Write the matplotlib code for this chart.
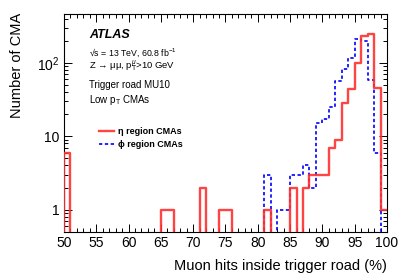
import numpy as np
import matplotlib as mpl
mpl.use('Agg')
import matplotlib.pyplot as plt
from matplotlib.lines import Line2D
from matplotlib.ticker import MultipleLocator, LogLocator, FixedLocator, NullFormatter

plt.rcParams['font.family'] = ['Liberation Sans', 'DejaVu Sans']
plt.rcParams['mathtext.fontset'] = 'custom'
plt.rcParams['mathtext.rm'] = 'Liberation Sans'
plt.rcParams['mathtext.it'] = 'Liberation Sans:italic'

# bin edges 50..100 in steps of 1 (%)
bin_edges = np.arange(50, 101, 1)

# eta region CMAs, counts per bin (bins 50..99)
eta_counts = [6, 0, 0, 0, 0, 0, 0, 0, 0, 0,
              0, 0, 0, 0, 0, 1, 1, 0, 0, 0,
              0, 2, 0, 0, 1, 1, 0, 0, 0, 0,
              0, 1, 0, 0, 0, 2, 0, 2, 3, 3,
              3, 7, 9, 28, 44, 100, 233, 248, 45, 1]

# phi region CMAs, counts per bin (bins 50..99)
phi_counts = [0, 0, 0, 0, 0, 0, 0, 0, 0, 0,
              0, 0, 0, 0, 0, 0, 0, 0, 0, 0,
              0, 0, 0, 0, 0, 0, 0, 0, 0, 0,
              0, 3, 0, 1, 1, 3, 3, 4, 2, 15,
              17, 25, 57, 82, 116, 210, 195, 59, 6, 0]

ymin, ymax = 0.5, 460


def steps(counts):
    c = np.array(counts, dtype=float)
    c[c <= 0] = 1e-3  # empty bins sit at the frame bottom like ROOT
    return np.append(c, c[-1])


fig = plt.figure(figsize=(4.07, 2.76), dpi=100)
ax = fig.add_axes([0.157, 0.16, 0.794, 0.789])

ax.step(bin_edges, steps(phi_counts), where='post', color='#0000ff', lw=1.2,
        ls=(0, (2, 1.5)), zorder=2)
ax.step(bin_edges, steps(eta_counts), where='post', color='#ff3030', lw=1.7,
        alpha=0.9, zorder=3)
# closing edge at 50
ax.vlines([50], ymin, eta_counts[0], color='#ff3030', lw=1.7, alpha=0.9, zorder=3)

ax.set_yscale('log')
ax.set_xlim(50, 100)
ax.set_ylim(ymin, ymax)

ax.xaxis.set_major_locator(MultipleLocator(5))
ax.xaxis.set_minor_locator(MultipleLocator(1))
ax.yaxis.set_major_locator(FixedLocator([1, 10, 100]))
ax.yaxis.set_minor_locator(LogLocator(base=10, subs=np.arange(2, 10)))
ax.yaxis.set_minor_formatter(NullFormatter())
ax.set_yticklabels(['1', '10', '10$^2$'])
ax.tick_params(which='both', direction='in', top=True, right=True, labelsize=10, pad=3)
ax.tick_params(which='major', length=6, width=0.7)
ax.tick_params(which='minor', length=3, width=0.7)
for s in ax.spines.values():
    s.set_linewidth(0.8)

ax.set_ylabel('Number of CMA', fontsize=10.5)
ax.yaxis.set_label_coords(-0.125, 0.765)
ax.set_xlabel('Muon hits inside trigger road (%)', fontsize=10.5, ha='right')
ax.xaxis.set_label_coords(1.0, -0.125)

# annotations
ax.text(0.077, 0.905, 'ATLAS', transform=ax.transAxes, fontsize=9,
        fontweight='bold', fontstyle='italic', va='center')
ax.text(0.077, 0.822, '√s = 13 TeV, 60.8 fb$^{-1}$', transform=ax.transAxes,
        fontsize=6.3, va='center')
ax.text(0.077, 0.758, 'Z → μμ, p$_{\\mathrm{T}}^{\\mu}$>10 GeV', transform=ax.transAxes,
        fontsize=6.8, va='center')
ax.text(0.077, 0.674, 'Trigger road MU10', transform=ax.transAxes, fontsize=7, va='center')
ax.text(0.077, 0.605, r'Low p$_{\mathrm{T}}$ CMAs', transform=ax.transAxes, fontsize=7, va='center')

handles = [Line2D([], [], color='#ff3030', lw=1.7, alpha=0.9),
           Line2D([], [], color='#0000ff', lw=1.2, ls=(0, (2, 1.5)))]
leg = ax.legend(handles, ['η region CMAs', 'ϕ region CMAs'], loc='center left',
                bbox_to_anchor=(0.085, 0.43), frameon=False, handlelength=1.6,
                handletextpad=0.5, labelspacing=0.45,
                prop={'size': 6.5, 'weight': 'bold'})

fig.savefig('out.png', dpi=100)
